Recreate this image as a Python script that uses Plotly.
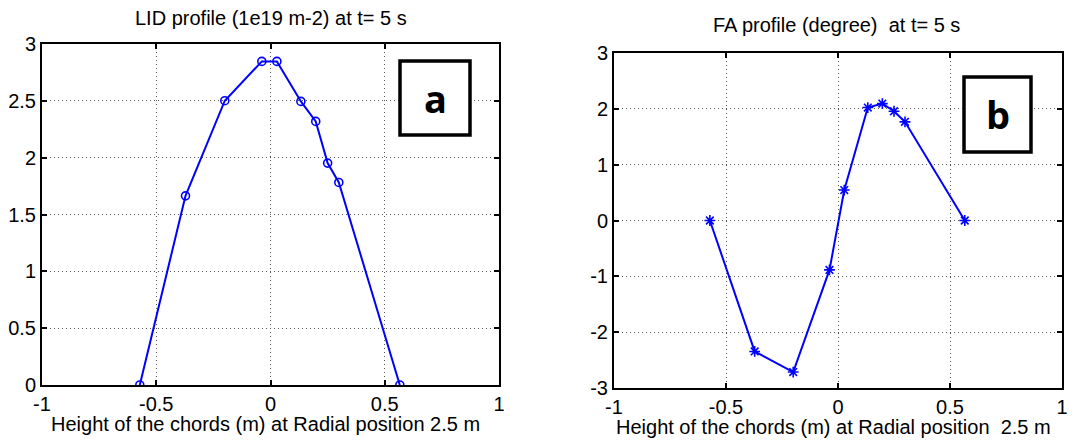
import plotly.graph_objects as go

# Data
chord_height = [-0.572, -0.372, -0.200, -0.038, 0.028, 0.133, 0.198, 0.250, 0.299, 0.566]
lid_values = [0.0, 1.664, 2.501, 2.847, 2.847, 2.495, 2.319, 1.952, 1.782, 0.0]
fa_values = [0.0, -2.345, -2.714, -0.885, 0.545, 2.023, 2.094, 1.957, 1.767, 0.0]

x_tickvals = [-1, -0.5, 0, 0.5, 1]
x_ticktext = ["-1", "-0.5", "0", "0.5", "1"]
ya_tickvals = [0, 0.5, 1, 1.5, 2, 2.5, 3]
ya_ticktext = ["0", "0.5", "1", "1.5", "2", "2.5", "3"]
yb_tickvals = [-3, -2, -1, 0, 1, 2, 3]
yb_ticktext = ["-3", "-2", "-1", "0", "1", "2", "3"]

title_a = "LID profile (1e19 m-2) at t= 5 s"
title_b = "FA profile (degree)  at t= 5 s"
xlabel_a = "Height of the chords (m) at Radial position 2.5 m"
xlabel_b = "Height of the chords (m) at Radial position  2.5 m"

W, H = 1088, 441
M = 20  # explicit margin on every side
PW, PH = W - 2 * M, H - 2 * M
OFF_X, OFF_Y = 8, 8  # page offset compensation
BLUE = "#0000FF"
FONT = "Liberation Sans, Arial, sans-serif"


def px(p):
    return (p - OFF_X - M) / PW


def py(p):
    return 1 - (p - OFF_Y - M) / PH


fig = go.Figure()
fig.add_trace(go.Scatter(
    x=chord_height, y=lid_values, mode="lines+markers",
    line=dict(color=BLUE, width=2),
    marker=dict(symbol="circle-open", size=8, color=BLUE, line=dict(width=1.6, color=BLUE)),
    xaxis="x", yaxis="y", showlegend=False))
fig.add_trace(go.Scatter(
    x=chord_height, y=fa_values, mode="lines+markers",
    line=dict(color=BLUE, width=2),
    marker=dict(symbol="asterisk-open", size=9, color=BLUE, line=dict(width=1.6, color=BLUE)),
    xaxis="x2", yaxis="y2", showlegend=False))


def ax(domain, rng, tv, tt, anchor):
    return dict(
        domain=domain, range=rng, anchor=anchor,
        tickmode="array", tickvals=tv, ticktext=tt,
        showline=True, linecolor="black", linewidth=2, mirror="ticks",
        ticks="inside", ticklen=5, tickwidth=1.5, tickcolor="black",
        showgrid=True, gridcolor="#555555", griddash="1px,3px", gridwidth=1,
        zeroline=False, fixedrange=True, automargin=False,
        tickfont=dict(family=FONT, size=20, color="black"),
    )


# panel a: x 42..499 px, y 44..385 px ; panel b: x 614..1062, y 53..388
fig.update_layout(
    width=W, height=H,
    margin=dict(l=M, r=M, t=M, b=M, pad=0, autoexpand=False),
    paper_bgcolor="white", plot_bgcolor="white",
    xaxis=ax([px(42), px(499)], [-1, 1], x_tickvals, x_ticktext, "y"),
    yaxis=ax([py(385), py(44)], [0, 3], ya_tickvals, ya_ticktext, "x"),
    xaxis2=ax([px(614), px(1062)], [-1, 1], x_tickvals, x_ticktext, "y2"),
    yaxis2=ax([py(388), py(53)], [-3, 3], yb_tickvals, yb_ticktext, "x2"),
)

txt_font = dict(family=FONT, size=20, color="black")
for (cx, cy, text) in [(271, 18, title_a), (836, 25, title_b),
                       (265, 424, xlabel_a), (833, 427, xlabel_b)]:
    fig.add_annotation(x=px(cx), y=py(cy), xref="paper", yref="paper", text=text,
                       showarrow=False, font=txt_font, xanchor="center", yanchor="middle")

# Boxed panel labels
for (x0, y0, x1, y1, lab) in [(400, 61, 470, 135, "a"), (964, 77, 1031, 152, "b")]:
    fig.add_shape(type="rect", xref="paper", yref="paper",
                  x0=px(x0), x1=px(x1), y0=py(y1), y1=py(y0),
                  line=dict(color="black", width=3.5), fillcolor="white", layer="above")
    fig.add_annotation(x=px((x0 + x1) / 2), y=py((y0 + y1) / 2), xref="paper", yref="paper",
                       text="<b>%s</b>" % lab, showarrow=False,
                       font=dict(family="Open Sans, sans-serif", size=38, color="black"),
                       xanchor="center", yanchor="middle")

fig.write_html("out.html")
